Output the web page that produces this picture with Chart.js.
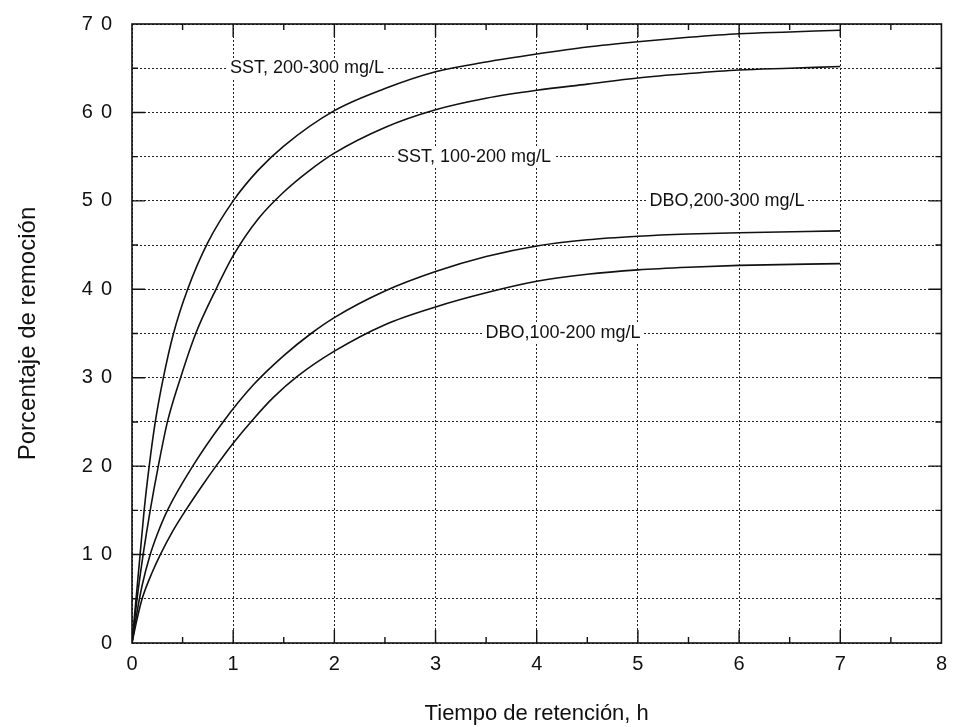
<!DOCTYPE html>
<html>
<head>
<meta charset="utf-8">
<script src="https://cdn.jsdelivr.net/npm/chart.js@4.4.1/dist/chart.umd.min.js"></script>
<style>
  html, body { margin: 0; padding: 0; background: #fff; }
  #wrap { width: 956px; height: 727px; }
</style>
</head>
<body>
<div id="wrap"><canvas id="chart" width="956" height="727"></canvas></div>
<script>
// curves (x = hours, y = % removal)
const sst200X = [0, 0.04, 0.08, 0.12, 0.17, 0.23, 0.31, 0.41, 0.55, 0.75, 1, 1.25, 1.5, 2, 2.5, 3, 3.5, 4, 4.5, 5, 5.5, 6, 6.5, 7];
const sst200Y = [0, 5, 10, 15, 20, 25, 30, 35, 40, 45.3, 50, 53.5, 56.2, 60.2, 62.7, 64.6, 65.7, 66.6, 67.4, 68, 68.5, 68.9, 69.1, 69.3];

const sst100X = [0, 0.05, 0.11, 0.18, 0.26, 0.35, 0.48, 0.63, 0.83, 1, 1.25, 1.5, 1.75, 2, 2.5, 3, 3.5, 4, 4.5, 5, 5.5, 6, 6.5, 7];
const sst100Y = [0, 5, 10, 15, 20, 25, 30, 35, 40, 43.8, 48, 51, 53.4, 55.4, 58.3, 60.3, 61.6, 62.5, 63.2, 63.9, 64.4, 64.8, 65, 65.2];

const dbo200X = [0, 0.05, 0.1, 0.18, 0.25, 0.35, 0.6, 0.9, 1.2, 1.5, 1.77, 2, 2.5, 3, 3.5, 4, 4.5, 5, 5.5, 6, 7];
const dbo200Y = [0, 3.5, 6.5, 10, 12.3, 15, 20, 25, 29.2, 32.5, 35, 36.8, 39.8, 42, 43.7, 44.9, 45.6, 46, 46.25, 46.4, 46.6];

const dbo100X = [0, 0.05, 0.1, 0.2, 0.28, 0.4, 0.53, 0.7, 0.83, 1, 1.19, 1.4, 1.64, 2, 2.5, 3, 3.5, 4, 4.5, 5, 5.5, 6, 7];
const dbo100Y = [0, 2.7, 5, 8, 10, 12.6, 15, 17.9, 20, 22.6, 25.2, 27.8, 30.2, 33, 36, 38, 39.6, 40.9, 41.7, 42.2, 42.5, 42.7, 42.9];

// curve labels and where they sit (data coords of the text centre)
const curveLabels = ["SST, 200-300 mg/L", "SST, 100-200 mg/L", "DBO,200-300 mg/L", "DBO,100-200 mg/L"];
const labelX = [1.73, 3.38, 5.88, 4.26];
const labelY = [65, 55, 50, 35];

const xTitle = "Tiempo de retención, h";
const yTitle = "Porcentaje de remoción";

function toPoints(xs, ys) {
    return xs.map((x, i) => ({ x: x, y: ys[i] }));
}

function makeSet(xs, ys) {
    return {
        data: toPoints(xs, ys),
        borderColor: '#111',
        borderWidth: 1.6,
        pointRadius: 0,
        fill: false,
        cubicInterpolationMode: 'monotone'
    };
}

const fontFamily = '"Liberation Sans", Arial, sans-serif';

// frame, inward ticks and curve labels
const decorPlugin = {
    id: 'decor',
    afterDatasetsDraw(chart) {
        const ctx = chart.ctx;
        const a = chart.chartArea;
        const xs = chart.scales.x;
        const ys = chart.scales.y;
        ctx.save();
        ctx.strokeStyle = '#111';
        ctx.lineWidth = 1.6;
        ctx.strokeRect(a.left, a.top, a.right - a.left, a.bottom - a.top);

        ctx.lineWidth = 1.4;
        ctx.beginPath();
        for (let v = 0.5; v < 8; v += 0.5) {
            const px = xs.getPixelForValue(v);
            const len = (v % 1 === 0) ? 13 : 6;
            ctx.moveTo(px, a.bottom); ctx.lineTo(px, a.bottom - len);
            ctx.moveTo(px, a.top); ctx.lineTo(px, a.top + len);
        }
        for (let v = 5; v < 70; v += 5) {
            const py = ys.getPixelForValue(v);
            const len = (v % 10 === 0) ? 13 : 6;
            ctx.moveTo(a.left, py); ctx.lineTo(a.left + len, py);
            ctx.moveTo(a.right, py); ctx.lineTo(a.right - len, py);
        }
        ctx.stroke();

        ctx.font = '18px ' + fontFamily;
        ctx.textAlign = 'center';
        ctx.textBaseline = 'middle';
        curveLabels.forEach((txt, i) => {
            const px = xs.getPixelForValue(labelX[i]);
            const py = ys.getPixelForValue(labelY[i]);
            const w = ctx.measureText(txt).width;
            ctx.fillStyle = '#fff';
            ctx.fillRect(px - w / 2 - 3, py - 10, w + 6, 20);
            ctx.fillStyle = '#111';
            ctx.fillText(txt, px, py);
        });
        ctx.restore();
    }
};

// the y numbers in the picture are set wide ("7 0"), so space them out
function widenYLabels(scale) {
    scale.width = 132;
    if (scale._wideLabels) return;
    scale._wideLabels = true;
    const orig = scale.drawLabels;
    scale.drawLabels = function(area) {
        const c = this.ctx;
        const prev = c.letterSpacing;
        c.letterSpacing = '8px';
        orig.call(this, area);
        c.letterSpacing = prev || '0px';
    };
}

const ctx = document.getElementById('chart').getContext('2d');
const chart = new Chart(ctx, {
    type: 'line',
    data: {
        datasets: [
            makeSet(sst200X, sst200Y),
            makeSet(sst100X, sst100Y),
            makeSet(dbo200X, dbo200Y),
            makeSet(dbo100X, dbo100Y)
        ]
    },
    options: {
        responsive: false,
        animation: false,
        layout: { padding: { left: 0, right: 12, top: 22, bottom: 0 } },
        plugins: {
            legend: { display: false },
            tooltip: { enabled: false }
        },
        scales: {
            x: {
                type: 'linear',
                min: 0,
                max: 8,
                afterFit: s => { s.height = 84; },
                grid: {
                    color: '#222',
                    lineWidth: 1,
                    drawTicks: false
                },
                border: { display: false, dash: [2, 2] },
                ticks: {
                    stepSize: 1,
                    padding: 9,
                    color: '#111',
                    font: { family: fontFamily, size: 20 }
                },
                title: {
                    display: true,
                    text: xTitle,
                    color: '#111',
                    padding: { top: 0, bottom: 0 },
                    font: { family: fontFamily, size: 22 }
                }
            },
            y: {
                type: 'linear',
                min: 0,
                max: 70,
                afterFit: widenYLabels,
                grid: {
                    color: '#222',
                    lineWidth: 1,
                    drawTicks: false
                },
                border: { display: false, dash: [2, 2] },
                ticks: {
                    stepSize: 5,
                    padding: 12,
                    color: '#111',
                    font: { family: fontFamily, size: 20 },
                    callback: v => (v % 10 === 0 ? String(v) : '')
                },
                title: {
                    display: true,
                    text: yTitle,
                    color: '#111',
                    padding: { top: 14, bottom: 0 },
                    font: { family: fontFamily, size: 24 }
                }
            }
        }
    },
    plugins: [decorPlugin]
});
</script>
</body>
</html>
